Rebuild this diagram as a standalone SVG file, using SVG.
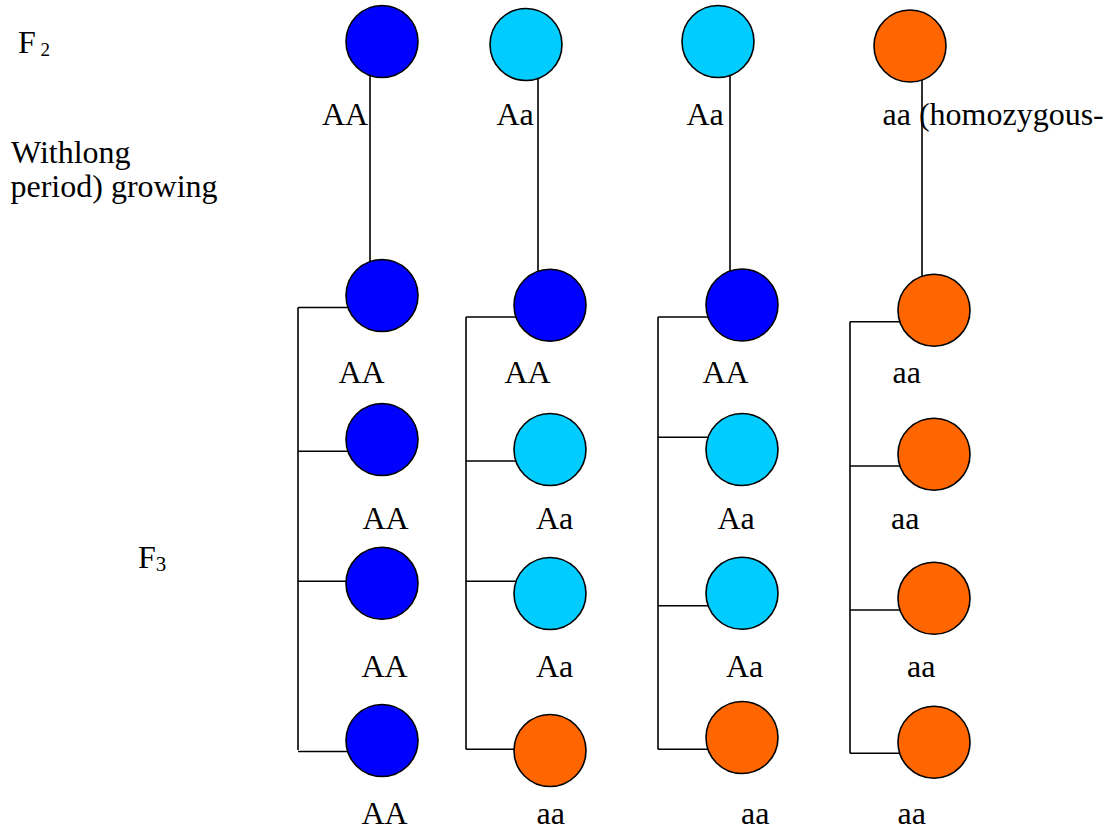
<svg xmlns="http://www.w3.org/2000/svg" width="1109" height="829" viewBox="0 0 1109 829">
<style>
.t{font-family:"Liberation Serif","Times New Roman",Tinos,serif;font-size:32px;fill:#000}
.c{stroke:#000;stroke-width:1.6}
.b{fill:#0000FF}
.y{fill:#00CCFF}
.o{fill:#FF6600}
.l{stroke:#000;stroke-width:1.6;fill:none}
</style>
<rect width="1109" height="829" fill="#fff"/>
<g id="connectors">
<path class="l" d="M370 75V262M538 79V271M730 75V271M922 80V276"/>
<path class="l" d="M298 307.5V750M298 307.5H382M298 451.3H382M298 581.3H382M298 751.5H382"/>
<path class="l" d="M466 317V749.3M466 317H550M466 461H550M466 581.3H550M466 749.3H550"/>
<path class="l" d="M658 317V749.3M658 317H742M658 437.3H742M658 605.7H742M658 749.3H742"/>
<path class="l" d="M850 321.7V753.3M850 321.7H934M850 466H934M850 610H934M850 753.3H934"/>
</g>
<g id="labels">
<text class="t" x="18" y="52.7">F<tspan font-size="19" dy="3.3"> 2</tspan></text>
<text class="t" x="11" y="163.3">Withlong</text>
<text class="t" x="10.5" y="196.7">period) growing</text>
<text class="t" x="138" y="567.7">F<tspan font-size="21" dy="3">3</tspan></text>
</g>
<g id="f2-AA"><circle class="c b" cx="382" cy="41.5" r="36"/><text class="t" x="322" y="125">AA</text></g>
<g id="f2-Aa1"><circle class="c y" cx="526" cy="44.5" r="36"/><text class="t" x="496.5" y="125">Aa</text></g>
<g id="f2-Aa2"><circle class="c y" cx="718" cy="41.5" r="36"/><text class="t" x="686.5" y="125">Aa</text></g>
<g id="f2-aa"><circle class="c o" cx="910" cy="46" r="36"/><text class="t" x="882.5" y="125">aa (homozygous-</text></g>

<g id="c1r1"><circle class="c b" cx="382" cy="295.5" r="36"/><text class="t" x="338.5" y="382.7">AA</text></g>
<g id="c1r2"><circle class="c b" cx="382" cy="439.5" r="36"/><text class="t" x="362.5" y="529.3">AA</text></g>
<g id="c1r3"><circle class="c b" cx="382" cy="583.3" r="36"/><text class="t" x="361.5" y="676.7">AA</text></g>
<g id="c1r4"><circle class="c b" cx="382" cy="740.5" r="36"/><text class="t" x="361.5" y="824">AA</text></g>

<g id="c2r1"><circle class="c b" cx="550" cy="305.2" r="36"/><text class="t" x="504.5" y="382.7">AA</text></g>
<g id="c2r2"><circle class="c y" cx="550" cy="449.5" r="36"/><text class="t" x="536" y="529.3">Aa</text></g>
<g id="c2r3"><circle class="c y" cx="550" cy="593.5" r="36"/><text class="t" x="536" y="676.7">Aa</text></g>
<g id="c2r4"><circle class="c o" cx="550" cy="750.5" r="36"/><text class="t" x="536.5" y="824">aa</text></g>

<g id="c3r1"><circle class="c b" cx="742" cy="305" r="36"/><text class="t" x="702.5" y="382.7">AA</text></g>
<g id="c3r2"><circle class="c y" cx="742" cy="449.5" r="36"/><text class="t" x="717.5" y="529.3">Aa</text></g>
<g id="c3r3"><circle class="c y" cx="742" cy="593.3" r="36"/><text class="t" x="726" y="676.7">Aa</text></g>
<g id="c3r4"><circle class="c o" cx="742" cy="737.5" r="36"/><text class="t" x="741" y="824">aa</text></g>

<g id="c4r1"><circle class="c o" cx="934" cy="310.2" r="36"/><text class="t" x="892.5" y="382.7">aa</text></g>
<g id="c4r2"><circle class="c o" cx="934" cy="454.2" r="36"/><text class="t" x="891" y="529.3">aa</text></g>
<g id="c4r3"><circle class="c o" cx="934" cy="598.3" r="36"/><text class="t" x="907" y="676.7">aa</text></g>
<g id="c4r4"><circle class="c o" cx="934" cy="742.2" r="36"/><text class="t" x="897.5" y="824">aa</text></g>
</svg>
